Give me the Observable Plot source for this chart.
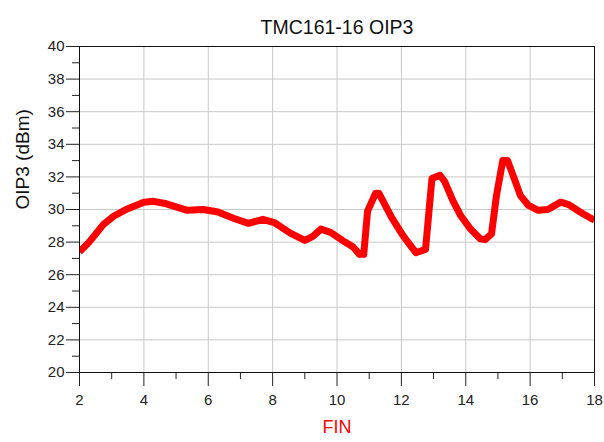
<!DOCTYPE html>
<html>
<head>
<meta charset="utf-8">
<script src="https://cdn.jsdelivr.net/npm/d3@7"></script>
<script src="https://cdn.jsdelivr.net/npm/@observablehq/plot@0.6"></script>
<style>
  html, body { margin: 0; padding: 0; background: #fff; }
</style>
</head>
<body>
<div id="chart"></div>
<script>
const title = "TMC161-16 OIP3";
const xLabel = "FIN";
const yLabel = "OIP3 (dBm)";

const freq = [2.0, 2.3, 2.75, 3.07, 3.5, 4.0, 4.3, 4.7, 5.35, 5.85, 6.3, 6.8, 7.25, 7.7, 8.05, 8.55, 9.0, 9.25, 9.5, 9.8,
  10.25, 10.5, 10.7, 10.83, 10.95, 11.2, 11.3, 11.7, 12.05, 12.45, 12.75, 12.95, 13.2, 13.35, 13.6, 13.85, 14.15, 14.45, 14.6, 14.8,
  14.95, 15.15, 15.3, 15.45, 15.7, 15.95, 16.25, 16.55, 16.95, 17.2, 17.55, 17.9, 18.0];
const oip3 = [27.4, 28.0, 29.1, 29.6, 30.05, 30.45, 30.5, 30.35, 29.95, 30.0, 29.85, 29.45, 29.15, 29.4, 29.2, 28.55, 28.1, 28.35, 28.8, 28.6,
  28.0, 27.7, 27.25, 27.25, 29.9, 31.0, 31.0, 29.5, 28.4, 27.35, 27.55, 31.9, 32.1, 31.7, 30.55, 29.6, 28.8, 28.2, 28.15, 28.5,
  30.8, 33.0, 33.0, 32.2, 30.85, 30.25, 29.95, 30.0, 30.45, 30.3, 29.85, 29.45, 29.35];

const xMajor = [2, 4, 6, 8, 10, 12, 14, 16, 18];
const xMinor = [3, 5, 7, 9, 11, 13, 15, 17];
const yMajor = [20, 22, 24, 26, 28, 30, 32, 34, 36, 38, 40];
const yMinor = [21, 23, 25, 27, 29, 31, 33, 35, 37, 39];

const data = freq.map((f, i) => ({f, v: oip3[i]}));
const font = "'Liberation Sans', Arial, sans-serif";

const chart = Plot.plot({
  width: 604,
  height: 442,
  marginTop: 46,
  marginBottom: 70,
  marginLeft: 79,
  marginRight: 10,
  style: {fontFamily: font, fontSize: "15px", color: "#222", background: "#fff"},
  x: {domain: [2, 18]},
  y: {domain: [20, 40]},
  marks: [
    Plot.gridX(xMajor, {stroke: "#c8c8c8", strokeOpacity: 1}),
    Plot.gridY(yMajor, {stroke: "#c8c8c8", strokeOpacity: 1}),
    Plot.axisX({ticks: xMinor, tickSize: 7, text: null, label: null, stroke: "#222"}),
    Plot.axisX({ticks: xMajor, tickSize: 14, tickPadding: 8, label: null, stroke: "#222", fontSize: 15}),
    Plot.axisY({ticks: yMinor, tickSize: 7, text: null, label: null, stroke: "#222"}),
    Plot.axisY({ticks: yMajor, tickSize: 13, tickPadding: 2, label: null, stroke: "#222", fontSize: 15}),
    Plot.line(data, {x: "f", y: "v", stroke: "#ff0000", strokeWidth: 7, strokeLinejoin: "round", strokeLinecap: "butt", clip: true}),
    Plot.frame({stroke: "#111", strokeWidth: 1}),
    Plot.text([title], {frameAnchor: "top", dy: -26, fontSize: 19.5, fill: "#111", fontFamily: font}),
    Plot.text([yLabel], {frameAnchor: "left", dx: -57, rotate: -90, fontSize: 19, fill: "#111", fontFamily: font}),
    Plot.text([xLabel], {frameAnchor: "bottom", dy: 60, fontSize: 18, fill: "#ff0000", fontFamily: font})
  ]
});
document.getElementById("chart").appendChild(chart);
</script>
</body>
</html>
